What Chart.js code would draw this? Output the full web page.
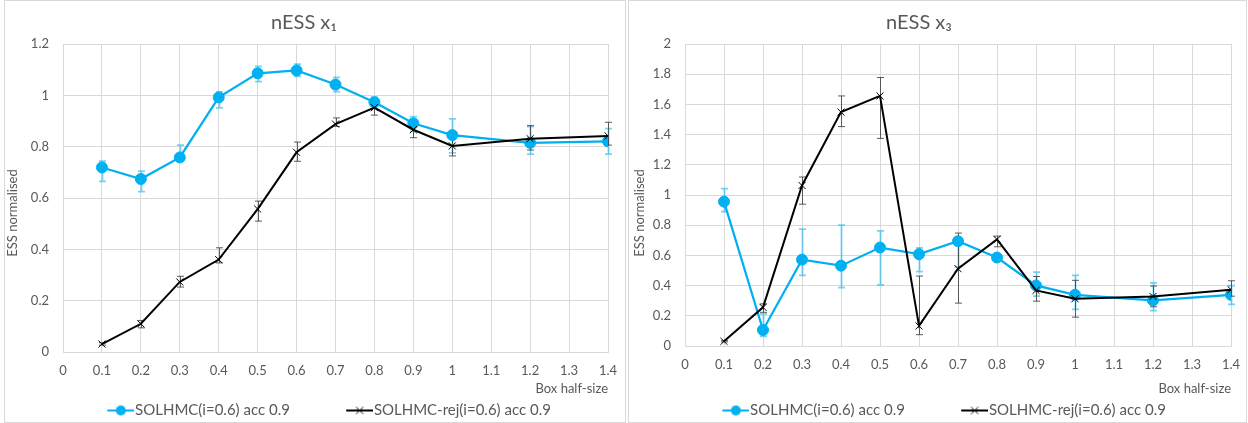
<!DOCTYPE html>
<html>
<head>
<meta charset="utf-8">
<script src="https://cdn.jsdelivr.net/npm/chart.js@4.4.1/dist/chart.umd.min.js"></script>
<style>
  html, body { margin: 0; padding: 0; background: #ffffff; }
  body { width: 1248px; height: 423px; position: relative; overflow: hidden; }
  .panel { position: absolute; top: 0; height: 421px; border: 1px solid #D9D9D9; box-sizing: content-box; }
  canvas { position: absolute; top: 0; }
</style>
</head>
<body>
<div class="panel" style="left:4px; width:620px;"></div>
<div class="panel" style="left:628px; width:617px;"></div>
<canvas id="c1" width="650" height="423" style="left:0px;"></canvas>
<canvas id="c2" width="641" height="423" style="left:607px;"></canvas>
<script>
// ---------------- data ----------------
const boxHalfSize = [0.1, 0.2, 0.3, 0.4, 0.5, 0.6, 0.7, 0.8, 0.9, 1.0, 1.2, 1.4];

const seriesNames = ['SOLHMC(i=0.6) acc 0.9', 'SOLHMC-rej(i=0.6) acc 0.9'];
const chartTitles = ['nESS x\u2081', 'nESS x\u2083'];
const yAxisTitle = 'ESS normalised';
const xAxisTitle = 'Box half-size';

// nESS x1
const x1Solhmc      = [0.719, 0.674, 0.758, 0.992, 1.086, 1.097, 1.042, 0.973, 0.891, 0.845, 0.815, 0.821];
const x1SolhmcUpper = [0.744, 0.705, 0.806, 1.013, 1.113, 1.122, 1.070, 0.993, 0.917, 0.908, 0.878, 0.870];
const x1SolhmcLower = [0.665, 0.625, 0.749, 0.951, 1.053, 1.074, 1.014, 0.960, 0.860, 0.776, 0.771, 0.771];
const x1Rej         = [0.031, 0.110, 0.273, 0.360, 0.557, 0.778, 0.888, 0.952, 0.866, 0.803, 0.831, 0.842];
const x1RejUpper    = [0.036, 0.123, 0.295, 0.406, 0.588, 0.818, 0.912, 0.970, 0.905, 0.835, 0.882, 0.895];
const x1RejLower    = [0.027, 0.094, 0.253, 0.347, 0.510, 0.743, 0.879, 0.923, 0.835, 0.764, 0.787, 0.806];

// nESS x3
const x3Solhmc      = [0.956, 0.106, 0.572, 0.532, 0.652, 0.608, 0.694, 0.586, 0.401, 0.339, 0.302, 0.339];
const x3SolhmcUpper = [1.043, 0.213, 0.774, 0.801, 0.763, 0.650, 0.713, 0.600, 0.490, 0.468, 0.418, 0.400];
const x3SolhmcLower = [0.890, 0.064, 0.468, 0.386, 0.404, 0.492, 0.525, 0.565, 0.330, 0.242, 0.235, 0.276];
const x3Rej         = [0.031, 0.256, 1.063, 1.549, 1.656, 0.133, 0.512, 0.706, 0.368, 0.313, 0.328, 0.373];
const x3RejUpper    = [0.035, 0.279, 1.119, 1.656, 1.778, 0.463, 0.748, 0.728, 0.460, 0.435, 0.397, 0.432];
const x3RejLower    = [0.027, 0.223, 0.939, 1.453, 1.375, 0.075, 0.284, 0.657, 0.297, 0.191, 0.260, 0.330];

// tick labels
const xTickValues = [0, 0.1, 0.2, 0.3, 0.4, 0.5, 0.6, 0.7, 0.8, 0.9, 1.0, 1.1, 1.2, 1.3, 1.4];
const xTickLabels = ['0', '0.1', '0.2', '0.3', '0.4', '0.5', '0.6', '0.7', '0.8', '0.9', '1', '1.1', '1.2', '1.3', '1.4'];
const y1TickValues = [0, 0.2, 0.4, 0.6, 0.8, 1.0, 1.2];
const y1TickLabels = ['0', '0.2', '0.4', '0.6', '0.8', '1', '1.2'];
const y3TickValues = [0, 0.2, 0.4, 0.6, 0.8, 1.0, 1.2, 1.4, 1.6, 1.8, 2.0];
const y3TickLabels = ['0', '0.2', '0.4', '0.6', '0.8', '1', '1.2', '1.4', '1.6', '1.8', '2'];

// ---------------- styling ----------------
const BLUE = '#00B0F0';
const BLACK = '#000000';
const TEXT = '#595959';
const GRID = '#D9D9D9';
const FONT = 'Lato, "Open Sans", "DejaVu Sans", sans-serif';

const LEG_BOX = 70.5;          // legend box width
const LEG_IMG_W = LEG_BOX + 13; // image width (extends to text start)
const LEG_LINE = 27;

function legendImage(color, kind) {
  const c = document.createElement('canvas');
  c.width = Math.round(LEG_IMG_W);
  c.height = 14;
  const g = c.getContext('2d');
  const x1 = c.width - LEG_LINE, x2 = c.width;
  g.strokeStyle = color;
  g.lineWidth = 2;
  g.beginPath(); g.moveTo(x1, 7); g.lineTo(x2, 7); g.stroke();
  const cx = (x1 + x2) / 2;
  if (kind === 'circle') {
    g.fillStyle = color;
    g.beginPath(); g.arc(cx, 7, 5, 0, Math.PI * 2); g.fill();
  } else {
    g.lineWidth = 1;
    g.beginPath();
    g.moveTo(cx - 3.5, 3.5); g.lineTo(cx + 3.5, 10.5);
    g.moveTo(cx + 3.5, 3.5); g.lineTo(cx - 3.5, 10.5);
    g.stroke();
  }
  return c;
}
const legImgs = [legendImage(BLUE, 'circle'), legendImage(BLACK, 'cross')];

const errorBarPlugin = {
  id: 'errorBars',
  beforeDatasetsDraw(chart) {
    const { ctx } = chart;
    const xs = chart.scales.x, ys = chart.scales.y;
    chart.data.datasets.forEach((ds) => {
      if (!ds.errUpper) return;
      ctx.save();
      ctx.strokeStyle = ds.errColor;
      ctx.lineWidth = ds.errWidth;
      ds.data.forEach((p, j) => {
        const px = Math.round(xs.getPixelForValue(p.x)) + 0.5;
        const yt = ys.getPixelForValue(ds.errUpper[j]);
        const yb = ys.getPixelForValue(ds.errLower[j]);
        const cap = ds.errCap;
        ctx.beginPath();
        ctx.moveTo(px, yt); ctx.lineTo(px, yb);
        ctx.moveTo(px - cap, yt); ctx.lineTo(px + cap, yt);
        ctx.moveTo(px - cap, yb); ctx.lineTo(px + cap, yb);
        ctx.stroke();
      });
      ctx.restore();
    });
  }
};

const yTitlePlugin = {
  id: 'yTitle',
  afterDraw(chart, args, opts) {
    const ctx = chart.ctx;
    ctx.save();
    ctx.translate(opts.x, opts.y);
    ctx.rotate(-Math.PI / 2);
    ctx.font = '13px ' + FONT;
    ctx.fillStyle = TEXT;
    ctx.textAlign = 'center';
    ctx.textBaseline = 'middle';
    ctx.fillText(opts.text, 0, 0);
    ctx.restore();
  }
};

function pts(vals) { return boxHalfSize.map((x, i) => ({ x: x, y: vals[i] })); }

function makeChart(canvasId, cfg) {
  return new Chart(document.getElementById(canvasId), {
    type: 'line',
    data: {
      datasets: [
        {
          label: seriesNames[0],
          data: pts(cfg.blue),
          errUpper: cfg.blueUp, errLower: cfg.blueLo,
          errColor: 'rgba(0,176,240,0.55)', errWidth: 1.75, errCap: 3.5,
          borderColor: BLUE, backgroundColor: BLUE, borderWidth: 2.25,
          pointStyle: 'circle', pointRadius: 5.5, pointBorderWidth: 1,
          pointBackgroundColor: BLUE, pointBorderColor: BLUE,
          tension: 0, order: 2
        },
        {
          label: seriesNames[1],
          data: pts(cfg.black),
          errUpper: cfg.blackUp, errLower: cfg.blackLo,
          errColor: 'rgba(64,64,64,0.85)', errWidth: 1, errCap: 3.5,
          borderColor: BLACK, backgroundColor: BLACK, borderWidth: 2,
          pointStyle: 'crossRot', pointRadius: 5, pointBorderWidth: 1,
          pointBorderColor: BLACK, pointBackgroundColor: BLACK,
          tension: 0, order: 1
        }
      ]
    },
    options: {
      responsive: false,
      animation: false,
      devicePixelRatio: 1,
      layout: { padding: { left: 0, right: cfg.padRight, top: 0, bottom: -5 } },
      plugins: {
        title: {
          display: true, text: cfg.title, color: TEXT,
          font: { family: FONT, size: 20, weight: 'normal' },
          padding: { top: 11, bottom: 9 }
        },
        legend: {
          display: true, position: 'bottom',
          labels: {
            usePointStyle: true, pointStyleWidth: LEG_BOX, padding: 6,
            color: TEXT, font: { family: FONT, size: 15 },
            generateLabels(chart) {
              return chart.data.datasets.map((ds, i) => ({
                text: ds.label, fillStyle: ds.borderColor, strokeStyle: ds.borderColor,
                lineWidth: 0, pointStyle: legImgs[i], hidden: false, datasetIndex: i, fontColor: TEXT
              }));
            }
          }
        },
        tooltip: { enabled: false },
        yTitle: { text: yAxisTitle, x: cfg.yTitleX, y: 213 }
      },
      scales: {
        x: {
          type: 'linear', min: 0, max: 1.4,
          afterBuildTicks(s) { s.ticks = xTickValues.map(v => ({ value: v })); },
          afterFit(s) { s.height = cfg.xHeight; s.paddingLeft = 0; s.paddingRight = 0; },
          ticks: {
            color: TEXT, font: { family: FONT, size: 13 }, padding: 11, maxRotation: 0, autoSkip: false,
            callback: (v, i) => xTickLabels[i]
          },
          grid: { color: GRID, lineWidth: 1, drawTicks: false },
          border: { display: true, color: GRID, width: 1 },
          title: {
            display: true, text: xAxisTitle, align: 'end', color: TEXT,
            font: { family: FONT, size: 13 }, padding: { top: 0, bottom: 0 }
          }
        },
        y: {
          type: 'linear', min: 0, max: cfg.yMax,
          afterBuildTicks(s) { s.ticks = cfg.yTicks.map(v => ({ value: v })); },
          afterFit(s) { s.width = cfg.yWidth; s.paddingTop = 0; s.paddingBottom = 0; },
          ticks: {
            color: TEXT, font: { family: FONT, size: 13 }, padding: 14, autoSkip: false,
            callback: (v, i) => cfg.yLabels[i]
          },
          grid: { color: GRID, lineWidth: 1, drawTicks: false },
          border: { display: true, color: GRID, width: 1 }
        }
      }
    },
    plugins: [errorBarPlugin, yTitlePlugin]
  });
}

makeChart('c1', {
  title: chartTitles[0],
  blue: x1Solhmc, blueUp: x1SolhmcUpper, blueLo: x1SolhmcLower,
  black: x1Rej, blackUp: x1RejUpper, blackLo: x1RejLower,
  yMax: 1.2, yTicks: y1TickValues, yLabels: y1TickLabels,
  yWidth: 63, xHeight: 45, padRight: 42, yTitleX: 13
});
makeChart('c2', {
  title: chartTitles[1],
  blue: x3Solhmc, blueUp: x3SolhmcUpper, blueLo: x3SolhmcLower,
  black: x3Rej, blackUp: x3RejUpper, blackLo: x3RejLower,
  yMax: 2.0, yTicks: y3TickValues, yLabels: y3TickLabels,
  yWidth: 78, xHeight: 51, padRight: 17, yTitleX: 33
});
</script>
</body>
</html>
